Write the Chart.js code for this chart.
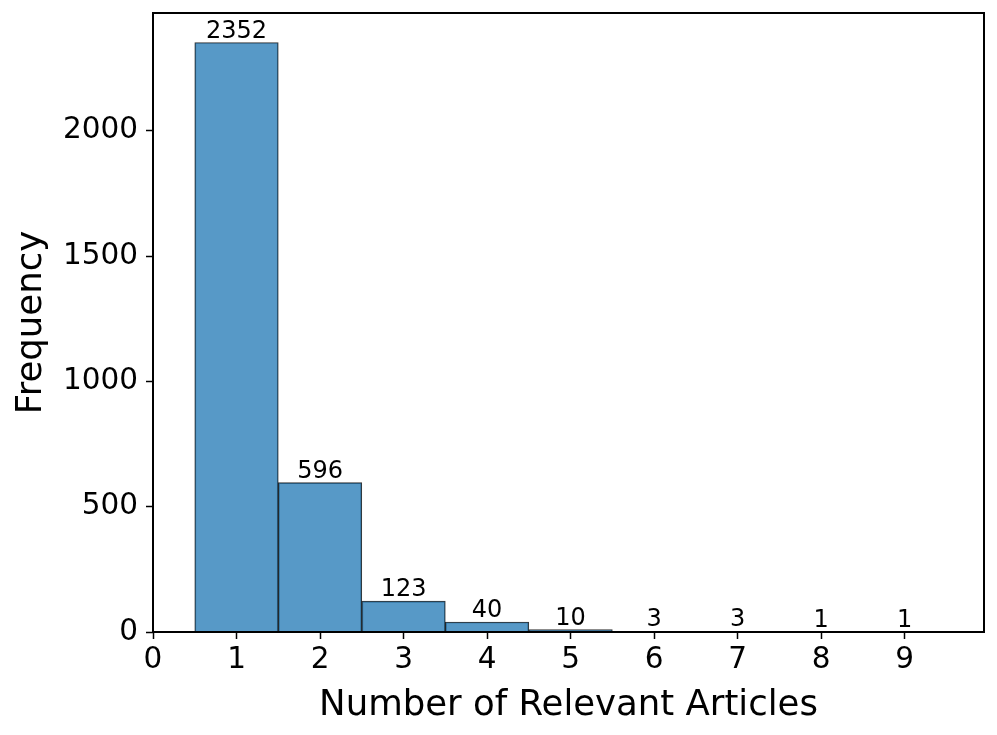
<!DOCTYPE html>
<html>
<head>
<meta charset="utf-8">
<script src="https://cdn.jsdelivr.net/npm/chart.js@4.4.1/dist/chart.umd.min.js"></script>
<style>
  html, body { margin: 0; padding: 0; background: #fff; }
  #wrap { width: 997px; height: 735px; }
</style>
</head>
<body>
<div id="wrap"><canvas id="grafico" width="997" height="735"></canvas></div>
<script>
// ===== dados =====
const artigos = [1, 2, 3, 4, 5, 6, 7, 8, 9];
const frequencia = [2352, 596, 123, 40, 10, 3, 3, 1, 1];
const ticksX = [0, 1, 2, 3, 4, 5, 6, 7, 8, 9];
const ticksY = [0, 500, 1000, 1500, 2000];

const FONTE = "'DejaVu Sans', sans-serif";

// quadro em volta da área do gráfico + rótulos das barras
const extras = {
  id: "extras",
  afterDatasetsDraw(chart) {
    const ctx = chart.ctx;
    const a = chart.chartArea;
    const x = chart.scales.x, y = chart.scales.y;
    ctx.save();
    ctx.fillStyle = "#000";
    ctx.font = "24px " + FONTE;
    ctx.textAlign = "center";
    ctx.textBaseline = "bottom";
    artigos.forEach((v, i) => {
      ctx.fillText(String(frequencia[i]), x.getPixelForValue(v), y.getPixelForValue(frequencia[i]) + 1);
    });
    ctx.strokeStyle = "#000";
    ctx.lineWidth = 2;
    ctx.strokeRect(a.left, a.top, a.right - a.left, a.bottom - a.top);
    ctx.restore();
  }
};

new Chart(document.getElementById("grafico"), {
  type: "bar",
  data: {
    datasets: [{
      data: artigos.map((v, i) => ({ x: v, y: frequencia[i] })),
      backgroundColor: "rgba(31,119,180,0.75)",
      borderColor: "rgba(0,0,0,0.8)",
      borderWidth: 1,
      barPercentage: 1,
      categoryPercentage: 1
    }]
  },
  options: {
    responsive: false,
    animation: false,
    layout: { padding: { left: 0, right: 13, top: 13, bottom: 0 } },
    plugins: { legend: { display: false }, tooltip: { enabled: false } },
    scales: {
      x: {
        type: "linear",
        offset: false,
        min: 0,
        max: 9.95,
        afterBuildTicks: s => { s.ticks = ticksX.map(v => ({ value: v })); },
        afterFit: s => { s.height = 103; s.paddingLeft = 0; s.paddingRight = 0; },
        grid: { offset: false, drawOnChartArea: false, tickLength: 7, tickWidth: 1.5, tickColor: "#000" },
        border: { display: false },
        ticks: { color: "#000", font: { family: FONTE, size: 29.5 }, padding: 4, maxRotation: 0, autoSkip: false },
        title: { display: true, text: "Number of Relevant Articles", color: "#000", font: { family: FONTE, size: 35.5 }, padding: { top: 0, bottom: 8 } }
      },
      y: {
        min: 0,
        max: 2469.6,
        afterBuildTicks: s => { s.ticks = ticksY.map(v => ({ value: v })); },
        afterFit: s => { s.width = 153; s.paddingTop = 0; s.paddingBottom = 0; },
        grid: { drawOnChartArea: false, tickLength: 7, tickWidth: 1.5, tickColor: "#000" },
        border: { display: false },
        ticks: { color: "#000", font: { family: FONTE, size: 29.5 }, padding: 8, callback: v => String(v) },
        title: { display: true, text: "Frequency", color: "#000", font: { family: FONTE, size: 35.5 }, padding: { top: 10, bottom: 0 } }
      }
    }
  },
  plugins: [extras]
});
</script>
</body>
</html>
